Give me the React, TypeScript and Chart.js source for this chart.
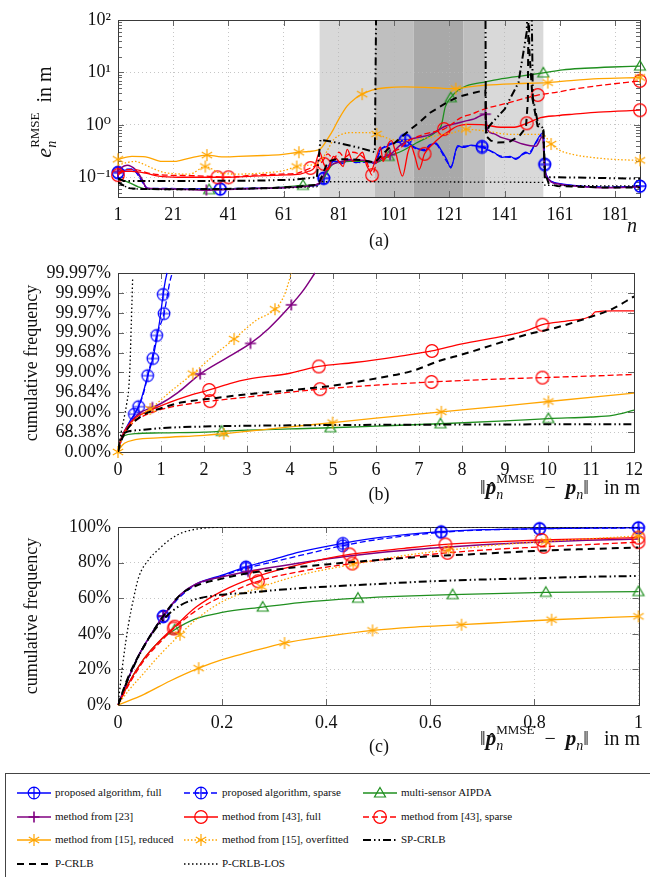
import React, { useEffect, useRef } from 'react';
import { Chart, registerables } from 'chart.js';
Chart.register(...registerables);

type P = [number, number][];
const SERIF = '"Liberation Serif", "DejaVu Serif", serif';

// ---------------- Panel (a): RMSE over time step n ----------------
const xTicksA = [1, 21, 41, 61, 81, 101, 121, 141, 161, 181];
const yTicksA = [0.1, 1, 10, 100];
const yTickLabelsA = ['10⁻¹', '10⁰', '10¹', '10²'];
// shaded time intervals [from, to, level]
const shadeA: [number, number, number][] = [[74, 94, 1], [94, 108, 2], [108, 126, 3], [126, 134, 2], [134, 155, 1]];

const blueFullA: P = [[1,0.12],[3,0.135],[6,0.14],[8.5,0.11],[10.9,0.068],[12,0.06],[20,0.06],[30,0.06],[38,0.059],[50,0.061],[60,0.064],[70,0.068],[73,0.07],[75.5,0.094],[78,0.19],[80,0.2],[82,0.18],[85,0.22],[87,0.19],[89,0.2],[92,0.19],[94,0.19],[96,0.34],[98,0.38],[100,0.43],[103,0.49],[105,0.5],[107,0.42],[109,0.36],[112,0.32],[114,0.4],[116,0.45],[118,0.33],[120,0.22],[121.5,0.15],[124,0.4],[126,0.37],[129,0.41],[132.8,0.37],[135,0.33],[137,0.3],[140,0.24],[143,0.25],[145,0.22],[148.6,0.3],[150,0.28],[152.2,0.46],[155,0.71],[155.5,0.18],[156.5,0.1],[158.4,0.082],[160,0.077],[166,0.07],[178,0.064],[190,0.068]];
const blueSparseA: P = [[1,0.125],[3,0.14],[6,0.145],[8.5,0.105],[10.9,0.066],[12,0.061],[20,0.061],[30,0.059],[38,0.06],[50,0.062],[60,0.063],[70,0.069],[73,0.071],[75.5,0.097],[78,0.18],[80,0.21],[82,0.19],[85,0.21],[87,0.2],[89,0.19],[92,0.2],[94,0.18],[96,0.32],[98,0.4],[100,0.45],[103,0.47],[105,0.52],[107,0.4],[109,0.35],[112,0.34],[114,0.42],[116,0.43],[118,0.31],[120,0.2],[121.5,0.16],[124,0.38],[126,0.39],[129,0.4],[132.8,0.39],[135,0.34],[137,0.29],[140,0.25],[143,0.24],[145,0.23],[148.6,0.29],[150,0.3],[152.2,0.44],[155,0.68],[155.5,0.17],[156.5,0.1],[158.4,0.08],[160,0.076],[166,0.069],[178,0.065],[190,0.067]];
const blueMarksA = [1, 38, 75.5, 105, 132.8, 155.5, 190];
const aipdaA: P = [[1,0.095],[4.8,0.08],[8.5,0.065],[11,0.06],[20,0.059],[34,0.058],[45,0.06],[60,0.064],[68,0.07],[73,0.072],[75,0.09],[79,0.18],[85,0.2],[90,0.2],[94.3,0.19],[99,0.25],[104,0.32],[109,0.45],[112.4,0.55],[116,0.72],[118,0.95],[119.5,2.2],[121.5,3.3],[124,4.5],[127,5.5],[134.2,6.6],[140,7.6],[148,8.7],[155,9.8],[162,11.2],[170,12],[180,12.7],[190,13.2]];
const aipdaMarksA = [34, 68, 99, 121.5, 155, 190];
const m23A: P = [[1,0.13],[2,0.15],[4.3,0.17],[7.3,0.14],[9.7,0.092],[11.4,0.062],[20,0.06],[33,0.057],[45,0.06],[60,0.063],[70,0.068],[74,0.078],[77,0.15],[79,0.18],[82,0.2],[85,0.21],[90,0.21],[94.3,0.19],[97,0.24],[99.5,0.27],[103,0.4],[107,0.53],[110,0.58],[114,0.65],[117,0.8],[119.7,0.95],[123,1.05],[127,1.19],[130,1.3],[134,1.6],[134.8,0.8],[137,0.68],[140,0.57],[144,0.5],[147.5,0.43],[152.3,0.39],[154.7,0.6],[155.5,0.15],[157,0.09],[160,0.075],[166,0.068],[178,0.063],[190,0.065]];
const m23MarksA = [1, 33, 99.5, 134];
const m43FullA: P = [[1,0.11],[3,0.13],[6,0.13],[11,0.12],[15.7,0.105],[22.6,0.1],[30,0.1],[37,0.1],[41,0.1],[50,0.105],[60,0.11],[67,0.115],[70,0.13],[72,0.15],[74,0.3],[75.5,0.18],[77,0.14],[79,0.25],[81,0.2],[82.5,0.16],[84,0.34],[86,0.2],[88,0.25],[89.5,0.3],[91,0.17],[92.5,0.13],[94.6,0.25],[96,0.38],[97,0.2],[99,0.45],[100,0.5],[101.5,0.3],[104,0.105],[106,0.3],[107,0.4],[108.5,0.25],[110,0.14],[112,0.28],[115,0.43],[118,0.6],[121,0.77],[124,0.95],[127.6,1.02],[133.6,1.0],[139.6,0.9],[144.5,0.9],[149,1.07],[154,1.37],[160,1.5],[166,1.6],[175,1.75],[190,1.9]];
const m43FullMarksA = [1, 37, 75.5, 112, 149, 190];
const m43SparseA: P = [[1,0.12],[4,0.14],[7,0.14],[12,0.12],[18,0.11],[25,0.108],[33,0.105],[41,0.1],[50,0.11],[60,0.115],[66,0.12],[70.7,0.15],[73,0.17],[75,0.2],[77,0.28],[79,0.22],[81,0.3],[83,0.24],[86,0.3],[89,0.26],[91,0.2],[93,0.11],[95.5,0.25],[98,0.22],[100,0.3],[103,0.35],[106,0.5],[109,0.58],[112,0.67],[119,0.83],[122,1.05],[125,1.36],[129,1.6],[133.6,2.0],[142,2.6],[153,3.7],[160,4.2],[166,4.8],[175,5.6],[190,6.9]];
const m43SparseMarksA = [41, 70.7, 93, 119, 153, 190];
const m15RedA: P = [[1,0.22],[6,0.25],[11,0.245],[17,0.2],[21.5,0.2],[26.6,0.23],[33.2,0.265],[38.5,0.245],[44.6,0.25],[53.6,0.26],[60,0.27],[66.5,0.3],[70,0.31],[74.3,0.35],[77,0.55],[79,0.82],[81,1.3],[84,2.3],[87,3.2],[89.4,3.85],[93,4.6],[98,5.1],[105,5.3],[112,5.2],[118,5.0],[123.3,4.9],[128,5.3],[134.2,5.7],[145,6.1],[156.6,6.4],[165,7.0],[175,7.6],[190,8.0]];
const m15RedMarksA = [1, 33.2, 66.5, 89.4, 123.3, 156.6, 190];
const m15OverA: P = [[1,0.17],[4,0.19],[7.3,0.2],[10,0.18],[13.3,0.15],[18,0.122],[27,0.115],[32.6,0.16],[38,0.12],[45,0.115],[53,0.12],[61,0.134],[65.7,0.16],[70,0.17],[73,0.18],[75.5,0.25],[79.2,0.53],[82,0.66],[85.2,0.71],[91,0.71],[94.6,0.67],[99.7,0.53],[105,0.5],[112,0.55],[118,0.65],[122,0.7],[127,0.82],[134.2,0.76],[142.7,0.66],[150,0.66],[154.7,0.66],[157.8,0.43],[160.7,0.33],[166,0.27],[172.3,0.24],[180,0.22],[190,0.21]];
const m15OverMarksA = [32.6, 65.7, 94.6, 127, 157.8, 190];
// bounds reaching "infinity" are given as 1000 (off the top of the axis)
const spcrlbA: P = [[1,0.095],[3,0.085],[10,0.085],[30,0.085],[50,0.086],[65,0.09],[73,0.1],[74.3,0.52],[80,0.46],[88.8,0.36],[94,0.3],[94.6,1000],[134,1000],[134.2,0.65],[135.4,0.95],[141,2],[146,6.4],[149,60],[149.6,1000],[150.6,1000],[151.2,3.3],[153,1.1],[155,0.85],[155.5,0.1],[160,0.1],[175,0.097],[190,0.094]];
const pcrlbA: P = [[1,0.08],[3,0.07],[5,0.062],[8,0.06],[20,0.059],[40,0.06],[55,0.062],[66,0.066],[73,0.072],[74.3,0.09],[77,0.2],[80,0.22],[85,0.22],[90,0.21],[94,0.19],[97,0.28],[100,0.4],[106,0.75],[110,1.1],[114,1.7],[119.7,2.6],[124,3.4],[129,4.0],[134,4.6],[134.3,0.61],[136,0.5],[138.4,0.46],[142.6,0.47],[146.3,0.61],[148.7,0.88],[149.4,3],[149.7,1000],[149.9,28],[151.1,3.1],[152.9,0.95],[155,0.8],[155.6,0.12],[157,0.075],[160,0.068],[175,0.064],[190,0.064]];
const losA: P = [[1,0.08],[3,0.068],[6,0.06],[20,0.058],[40,0.059],[60,0.062],[73,0.066],[74.3,0.082],[100,0.082],[130,0.081],[155,0.08],[155.6,0.07],[170,0.069],[190,0.068]];

// ---------------- Panel (b): CDF, probit-like axis; values are -log10(1-F) ----------------
const xTicksB = [0,1,2,3,4,5,6,7,8,9,10,11,12];
const yTicksB = [0,0.5,1,1.5,2,2.5,3,3.5,4,4.5];
const yTickLabelsB = ['0.00%','68.38%','90.00%','96.84%','99.00%','99.68%','99.90%','99.97%','99.99%','99.997%'];
const blueFullB: P = [[0,0],[0.05,0.22],[0.1,0.38],[0.2,0.62],[0.3,0.82],[0.38,0.95],[0.5,1.2],[0.6,1.55],[0.7,1.95],[0.81,2.35],[0.9,2.85],[0.97,3.3],[1.05,3.96],[1.1,4.3],[1.14,4.5]];
const blueFullMarksB = [0.38, 0.81, 1.05];
const blueSparseB: P = [[0,0],[0.05,0.2],[0.1,0.35],[0.2,0.58],[0.3,0.78],[0.48,1.14],[0.6,1.5],[0.69,1.92],[0.8,2.4],[0.9,2.93],[1.07,3.48],[1.15,3.95],[1.2,4.25],[1.26,4.5]];
const blueSparseMarksB = [0.48, 0.69, 0.9, 1.07];
const aipdaB: P = [[0,0],[0.03,0.2],[0.08,0.33],[0.15,0.41],[0.4,0.46],[1,0.48],[2,0.5],[2.41,0.52],[3,0.55],[4,0.58],[4.94,0.61],[6,0.65],[7.5,0.71],[9,0.78],[10.01,0.84],[11,0.88],[11.5,0.92],[12,1.05]];
const aipdaMarksB = [2.41, 4.94, 7.5, 10.01];
const m23B: P = [[0,0],[0.05,0.25],[0.1,0.42],[0.2,0.62],[0.3,0.76],[0.5,0.98],[0.8,1.12],[1.0,1.22],[1.4,1.5],[1.91,1.96],[2.5,2.35],[3.08,2.73],[3.5,3.1],[4.03,3.7],[4.3,4.05],[4.58,4.5]];
const m23MarksB = [0.8, 1.91, 3.08, 4.03];
const m43FullB: P = [[0,0],[0.05,0.25],[0.1,0.4],[0.2,0.6],[0.4,0.85],[0.75,1.05],[1.2,1.25],[1.6,1.4],[2.12,1.56],[2.6,1.72],[3.03,1.83],[4,1.98],[4.67,2.15],[5.5,2.25],[6.5,2.4],[7.3,2.54],[8,2.72],[9,2.92],[9.5,3.05],[9.87,3.2],[10.5,3.3],[11,3.42],[11.1,3.52],[11.5,3.55],[12,3.55]];
const m43FullMarksB = [2.12, 4.67, 7.3, 9.87];
const m43SparseB: P = [[0,0],[0.05,0.22],[0.1,0.36],[0.2,0.55],[0.4,0.78],[0.75,0.98],[1.2,1.12],[1.6,1.2],[2.14,1.28],[3,1.38],[3.8,1.48],[4.7,1.58],[6,1.68],[7.29,1.76],[8.5,1.82],[9.87,1.87],[11,1.91],[12,1.95]];
const m43SparseMarksB = [2.14, 4.7, 7.29, 9.87];
const m15RedB: P = [[0,0],[0.05,0.1],[0.15,0.22],[0.4,0.31],[1,0.36],[2,0.42],[2.46,0.46],[3,0.52],[4,0.63],[4.99,0.74],[6,0.85],[7.52,1.01],[9,1.16],[10.01,1.27],[12,1.48]];
const m15RedMarksB = [0, 2.46, 4.99, 7.52, 10.01];
const m15OverB: P = [[0,0],[0.1,0.35],[0.3,0.7],[0.5,0.9],[0.75,1.08],[1.2,1.5],[1.74,1.97],[2.2,2.4],[2.7,2.84],[3.2,3.3],[3.65,3.59],[3.85,3.9],[3.95,4.2],[4.03,4.5]];
const m15OverMarksB = [0.75, 1.74, 2.7, 3.65];
const spcrlbB: P = [[0,0],[0.03,0.2],[0.08,0.38],[0.15,0.48],[0.5,0.55],[1,0.6],[2,0.64],[4,0.67],[8,0.69],[12,0.7]];
const pcrlbB: P = [[0,0],[0.05,0.2],[0.1,0.35],[0.2,0.55],[0.54,0.9],[1,1.1],[1.5,1.25],[2.07,1.33],[3,1.45],[4,1.55],[4.94,1.66],[6,1.85],[6.85,2.04],[7.5,2.3],[8,2.45],[8.77,2.71],[9.5,2.95],[10.2,3.13],[11,3.4],[11.5,3.6],[12,3.91]];
const losB: P = [[0,0],[0.05,0.35],[0.1,0.65],[0.15,0.9],[0.2,1.2],[0.25,1.6],[0.28,2.2],[0.3,2.9],[0.32,3.6],[0.34,4.35]];

// ---------------- Panel (c): CDF, linear axis in % ----------------
const xTicksC = [0, 0.2, 0.4, 0.6, 0.8, 1];
const xTickLabelsC = ['0', '0.2', '0.4', '0.6', '0.8', '1'];
const yTicksC = [0, 20, 40, 60, 80, 100];
const yTickLabelsC = ['0%', '20%', '40%', '60%', '80%', '100%'];
const blueFullC: P = [[0,0],[0.02,15],[0.04,28],[0.06,38],[0.087,50],[0.12,62],[0.15,68],[0.2,73],[0.246,77.6],[0.3,82],[0.35,86],[0.432,90.8],[0.5,94],[0.621,97.4],[0.7,98.5],[0.81,99.1],[0.9,99.4],[1,99.6]];
const blueSparseC: P = [[0,0],[0.02,15],[0.04,28],[0.06,38],[0.087,49.5],[0.12,61],[0.15,67.5],[0.2,72.5],[0.246,76.8],[0.3,80.5],[0.35,84],[0.432,89.5],[0.5,93],[0.621,97],[0.7,98.3],[0.81,99],[0.9,99.3],[1,99.5]];
const blueMarksC = [0.087, 0.246, 0.432, 0.621, 0.81, 1];
const aipdaC: P = [[0,0],[0.02,12],[0.05,26],[0.08,36],[0.109,42.3],[0.15,48.5],[0.2,52],[0.278,55],[0.35,57.5],[0.461,60],[0.55,61.2],[0.643,62],[0.822,63.3],[1,63.7]];
const aipdaMarksC = [0.109, 0.278, 0.461, 0.643, 0.822, 1];
const m23C: P = [[0,0],[0.02,15],[0.04,28],[0.06,38],[0.087,50],[0.12,62],[0.15,68],[0.2,72],[0.25,75],[0.3,77.5],[0.4,82],[0.5,85.5],[0.6,88],[0.7,90],[0.8,91.5],[0.9,92.5],[1,93.3]];
const m23MarksC = [0.087, 0.25];
const m43FullC: P = [[0,0],[0.02,12],[0.05,26],[0.08,36],[0.109,44],[0.15,55],[0.2,64],[0.265,72],[0.35,79],[0.445,84.6],[0.55,88],[0.629,90.2],[0.72,91.6],[0.814,92.7],[1,94]];
const m43FullMarksC = [0.109, 0.265, 0.445, 0.629, 0.814, 1];
const m43SparseC: P = [[0,0],[0.02,11],[0.05,25],[0.08,35],[0.107,43],[0.15,53],[0.2,61],[0.269,69.5],[0.35,75],[0.45,79.5],[0.55,83],[0.633,85.5],[0.72,87.4],[0.818,88.9],[1,91.5]];
const m43SparseMarksC = [0.107, 0.269, 0.45, 0.633, 0.818, 1];
const m15RedC: P = [[0,0],[0.05,6],[0.1,13.5],[0.155,20.7],[0.2,25.5],[0.25,29.5],[0.32,34.8],[0.4,38.5],[0.489,41.9],[0.57,43.8],[0.66,45.1],[0.75,46.6],[0.833,47.9],[1,49.8]];
const m15RedMarksC = [0.155, 0.32, 0.489, 0.66, 0.833, 1];
const m15OverC: P = [[0,0],[0.02,8],[0.05,18],[0.08,28],[0.119,39.5],[0.15,48],[0.2,58],[0.276,66.4],[0.35,73],[0.452,79],[0.55,84],[0.635,87],[0.72,89.7],[0.822,91.9],[1,95]];
const m15OverMarksC = [0.119, 0.276, 0.452, 0.635, 0.822, 1];
const spcrlbC: P = [[0,0],[0.02,15],[0.05,33],[0.087,48],[0.12,56],[0.15,59.5],[0.2,62],[0.25,63],[0.3,64.5],[0.4,66.5],[0.5,68],[0.6,69.5],[0.7,70.5],[0.8,71.2],[0.9,72],[1,72.5]];
const pcrlbC: P = [[0,0],[0.02,16],[0.05,33],[0.087,50],[0.12,62],[0.15,67],[0.2,71],[0.25,74],[0.3,76],[0.4,79],[0.5,81.5],[0.6,83.5],[0.7,85],[0.8,86.5],[0.9,87.6],[1,88.5]];
const losC: P = [[0,0],[0.01,25],[0.02,45],[0.03,60],[0.04,72],[0.06,82],[0.08,88],[0.1,93],[0.125,97],[0.15,98.8],[0.175,99.6],[0.2,99.9],[0.25,100],[1,100]];

// ---------------- legend ----------------
const legendKeys = ['blueFull','blueSparse','aipda','m23','m43full','m43sparse','m15red','m15over','spcrlb','pcrlb','los'];
const legendLabels = ['proposed algorithm, full','proposed algorithm, sparse','multi-sensor AIPDA','method from [23]','method from [43], full','method from [43], sparse','method from [15], reduced','method from [15], overfitted','SP-CRLB','P-CRLB','P-CRLB-LOS'];

const STY: Record<string, any> = {
  blueFull: { color: '#0000ff', marker: 'oplus', dash: [], width: 1.3 },
  blueSparse: { color: '#0000ff', marker: 'oplus', dash: [6, 3], width: 1.3 },
  aipda: { color: '#1f8f1f', marker: 'triangle', dash: [], width: 1.3 },
  m23: { color: '#800080', marker: 'plus', dash: [], width: 1.5 },
  m43full: { color: '#ff0000', marker: 'circle', dash: [], width: 1.3 },
  m43sparse: { color: '#ff0000', marker: 'circle', dash: [6, 3], width: 1.3 },
  m15red: { color: '#ffa500', marker: 'asterisk', dash: [], width: 1.3 },
  m15over: { color: '#ffa500', marker: 'asterisk', dash: [1.5, 2], width: 1.3 },
  spcrlb: { color: '#000000', marker: null, dash: [8, 3, 1.5, 3, 1.5, 3], width: 2 },
  pcrlb: { color: '#000000', marker: null, dash: [7, 5], width: 2 },
  los: { color: '#000000', marker: null, dash: [1.5, 2.5], width: 1.3 },
};

function drawMarker(ctx: any, kind: string, x: number, y: number, color: string) {
  ctx.save();
  ctx.strokeStyle = color; ctx.lineWidth = 1.2; ctx.setLineDash([]);
  ctx.beginPath();
  if (kind === 'oplus') {
    const r = 5.8; ctx.arc(x, y, r, 0, Math.PI * 2);
    ctx.moveTo(x - r, y); ctx.lineTo(x + r, y); ctx.moveTo(x, y - r); ctx.lineTo(x, y + r);
  } else if (kind === 'circle') {
    ctx.arc(x, y, 6.3, 0, Math.PI * 2);
  } else if (kind === 'triangle') {
    ctx.moveTo(x, y - 5.5); ctx.lineTo(x + 5.5, y + 4); ctx.lineTo(x - 5.5, y + 4); ctx.closePath();
  } else if (kind === 'plus') {
    ctx.lineWidth = 1.6;
    ctx.moveTo(x - 5.5, y); ctx.lineTo(x + 5.5, y); ctx.moveTo(x, y - 5.5); ctx.lineTo(x, y + 5.5);
  } else if (kind === 'asterisk') {
    const r = 6;
    for (const a of [90, 30, 150]) {
      const t = (a * Math.PI) / 180;
      ctx.moveTo(x - r * Math.cos(t), y - r * Math.sin(t)); ctx.lineTo(x + r * Math.cos(t), y + r * Math.sin(t));
    }
  }
  ctx.stroke();
  ctx.restore();
}

function markerCanvas(kind: string, color: string) {
  const c = document.createElement('canvas');
  c.width = 18; c.height = 18;
  drawMarker(c.getContext('2d'), kind, 9, 9, color);
  return c;
}

function makeDataset(key: string, pts: P, marks: number[], mono: boolean) {
  const s = STY[key];
  const isBound = !s.marker;
  return {
    label: key,
    data: pts.map(([x, y]) => ({ x, y })),
    borderColor: s.color,
    backgroundColor: s.color,
    borderWidth: s.width,
    borderDash: s.dash,
    pointStyle: s.marker ? markerCanvas(s.marker, s.color) : false,
    pointRadius: (c: any) => (s.marker && c.raw && marks.includes(c.raw.x) ? 6 : 0),
    pointHoverRadius: 0,
    pointHitRadius: 0,
    fill: false,
    tension: 0,
    cubicInterpolationMode: mono ? 'monotone' : 'default',
    clip: isBound ? 0 : 10,
  };
}

type Part = { t: string; f: string; dy?: number; dx?: number; hold?: boolean };
function drawParts(ctx: any, parts: Part[], x: number, y: number, align: string, rotate = false) {
  ctx.save();
  ctx.fillStyle = '#111'; ctx.textBaseline = 'alphabetic'; ctx.textAlign = 'left';
  let total = 0, pend = 0;
  for (const p of parts) {
    ctx.font = p.f; const w = ctx.measureText(p.t).width;
    if (p.hold) pend = Math.max(pend, w); else { total += Math.max(pend, w); pend = 0; }
  }
  ctx.translate(x, y);
  if (rotate) ctx.rotate(-Math.PI / 2);
  let cx = align === 'center' ? -total / 2 : align === 'right' ? -total : 0;
  pend = 0;
  for (const p of parts) {
    ctx.font = p.f; const w = ctx.measureText(p.t).width;
    ctx.fillText(p.t, cx + (p.dx || 0), p.dy || 0);
    if (p.hold) pend = Math.max(pend, w); else { cx += Math.max(pend, w); pend = 0; }
  }
  ctx.restore();
}

const F18 = `18px ${SERIF}`;
const F20 = `20px ${SERIF}`;
const normTitle: Part[] = [
  { t: '‖', f: F20 },
  { t: 'ˆ', f: `bold 19px ${SERIF}`, dy: 1, dx: 3, hold: true },
  { t: 'p', f: `italic bold 21px ${SERIF}` },
  { t: 'MMSE', f: `13px ${SERIF}`, dy: -11, hold: true },
  { t: 'n', f: `italic 14px ${SERIF}`, dy: 5 },
  { t: '  −  ', f: F20 },
  { t: 'p', f: `italic bold 21px ${SERIF}` },
  { t: 'n', f: `italic 14px ${SERIF}`, dy: 5 },
  { t: '‖   in m', f: F20 },
];

function decoPlugin(cfg: any) {
  return {
    id: 'deco',
    beforeDraw(chart: any) {
      const { ctx, chartArea: a, scales } = chart;
      if (cfg.shade) {
        const cols: Record<number, string> = { 1: '#d9d9d9', 2: '#bfbfbf', 3: '#a9a9a9' };
        ctx.save();
        for (const [x0, x1, lvl] of cfg.shade) {
          const p0 = scales.x.getPixelForValue(x0), p1 = scales.x.getPixelForValue(x1);
          ctx.fillStyle = cols[lvl];
          ctx.fillRect(p0, a.top, p1 - p0, a.bottom - a.top);
        }
        ctx.restore();
      }
    },
    beforeDatasetsDraw(chart: any) {
      const { ctx, chartArea: a, scales } = chart;
      ctx.save();
      ctx.strokeStyle = '#666'; ctx.lineWidth = 1; ctx.setLineDash([]);
      ctx.beginPath();
      for (const t of scales.x.ticks) {
        const px = Math.round(scales.x.getPixelForValue(t.value)) + 0.5;
        ctx.moveTo(px, a.bottom); ctx.lineTo(px, a.bottom - 6);
        ctx.moveTo(px, a.top); ctx.lineTo(px, a.top + 6);
      }
      for (const t of scales.y.ticks) {
        const py = Math.round(scales.y.getPixelForValue(t.value)) + 0.5;
        ctx.moveTo(a.left, py); ctx.lineTo(a.left + 6, py);
        ctx.moveTo(a.right, py); ctx.lineTo(a.right - 6, py);
      }
      if (cfg.minorLog) {
        for (let e = -2; e <= 1; e++) {
          for (let m = 2; m <= 9; m++) {
            const v = m * Math.pow(10, e);
            if (v <= scales.y.min || v >= scales.y.max) continue;
            const py = Math.round(scales.y.getPixelForValue(v)) + 0.5;
            ctx.moveTo(a.left, py); ctx.lineTo(a.left + 4, py);
            ctx.moveTo(a.right, py); ctx.lineTo(a.right - 4, py);
          }
        }
      }
      ctx.stroke();
      ctx.strokeStyle = '#3a3a3a';
      ctx.strokeRect(Math.round(a.left) + 0.5, Math.round(a.top) + 0.5, Math.round(a.right - a.left), Math.round(a.bottom - a.top));
      ctx.restore();
    },
    afterDraw(chart: any) {
      cfg.texts(chart.ctx);
    },
  };
}

function makeChart(canvas: HTMLCanvasElement, o: any) {
  const datasets = o.series.map(([key, pts, marks]: any) => makeDataset(key, pts, marks, o.mono(key)));
  datasets.reverse(); // later legend entries drawn on top
  const tickFont = { family: SERIF, size: 18 };
  return new Chart(canvas, {
    type: 'line',
    data: { datasets },
    options: {
      animation: false, responsive: false, maintainAspectRatio: false, devicePixelRatio: 1,
      events: [],
      layout: { padding: { left: 0, right: 10, top: o.top, bottom: 0 } },
      plugins: { legend: { display: false }, tooltip: { enabled: false } },
      scales: {
        x: {
          type: 'linear', min: o.xMin, max: o.xMax,
          afterBuildTicks: (s: any) => { s.ticks = o.xTicks.map((v: number) => ({ value: v })); },
          afterFit: (s: any) => { s.height = o.xHeight; },
          ticks: { autoSkip: false, maxRotation: 0, padding: 7, font: tickFont, color: '#111',
            callback: (_v: any, i: number) => o.xLabels[i] },
          grid: { color: '#b8b8b8', lineWidth: 0.8, drawTicks: false },
          border: { display: false, dash: [1, 3] },
        },
        y: {
          type: o.yType, min: o.yMin, max: o.yMax,
          afterBuildTicks: (s: any) => { s.ticks = o.yTicks.map((v: number) => ({ value: v, major: true })); },
          afterFit: (s: any) => { s.width = 118; },
          ticks: { autoSkip: false, padding: 7, font: tickFont, color: '#111',
            callback: (_v: any, i: number) => o.yLabels[i] },
          grid: { color: '#b8b8b8', lineWidth: 0.8, drawTicks: false },
          border: { display: false, dash: [1, 3] },
        },
      },
    } as any,
    plugins: [decoPlugin(o.deco)],
  } as any);
}

function LegendSample({ k }: { k: string }) {
  const ref = useRef<HTMLCanvasElement>(null);
  useEffect(() => {
    const c = ref.current; if (!c) return;
    const ctx = c.getContext('2d') as any;
    const s = STY[k];
    ctx.clearRect(0, 0, c.width, c.height);
    ctx.strokeStyle = s.color; ctx.lineWidth = s.width; ctx.setLineDash(s.dash);
    ctx.beginPath(); ctx.moveTo(1, 8); ctx.lineTo(35, 8); ctx.stroke();
    if (s.marker) drawMarker(ctx, s.marker, 18, 8, s.color);
  }, [k]);
  return <canvas ref={ref} width={36} height={16} style={{ position: 'absolute', left: 0, top: -8 }} />;
}

export default function App() {
  const ra = useRef<HTMLCanvasElement>(null);
  const rb = useRef<HTMLCanvasElement>(null);
  const rc = useRef<HTMLCanvasElement>(null);

  useEffect(() => {
    const charts: any[] = [];
    const xLabelsA = xTicksA.map(String);
    charts.push(makeChart(ra.current!, {
      top: 20, xHeight: 53, xMin: 1, xMax: 190, xTicks: xTicksA, xLabels: xLabelsA,
      yType: 'logarithmic', yMin: 0.042, yMax: 100, yTicks: yTicksA, yLabels: yTickLabelsA,
      mono: (k: string) => !['spcrlb', 'pcrlb', 'los'].includes(k),
      series: [
        ['blueFull', blueFullA, blueMarksA], ['blueSparse', blueSparseA, blueMarksA], ['aipda', aipdaA, aipdaMarksA],
        ['m23', m23A, m23MarksA], ['m43full', m43FullA, m43FullMarksA], ['m43sparse', m43SparseA, m43SparseMarksA],
        ['m15red', m15RedA, m15RedMarksA], ['m15over', m15OverA, m15OverMarksA],
        ['spcrlb', spcrlbA, []], ['pcrlb', pcrlbA, []], ['los', losA, []],
      ],
      deco: {
        shade: shadeA, minorLog: true,
        texts: (ctx: any) => {
          drawParts(ctx, [
            { t: 'e', f: `italic 22px ${SERIF}` },
            { t: 'RMSE', f: `13px ${SERIF}`, dy: -12, hold: true },
            { t: 'n', f: `italic 14px ${SERIF}`, dy: 5 },
            { t: '  in m', f: F20 },
          ], 51, 112, 'center', true);
          drawParts(ctx, [{ t: '(a)', f: F18 }], 379, 246, 'center');
          drawParts(ctx, [{ t: 'n', f: `italic 20px ${SERIF}` }], 632, 232, 'center');
        },
      },
    }));
    charts.push(makeChart(rb.current!, {
      top: 23, xHeight: 53, xMin: 0, xMax: 12, xTicks: xTicksB, xLabels: xTicksB.map(String),
      yType: 'linear', yMin: 0, yMax: 4.5, yTicks: yTicksB, yLabels: yTickLabelsB,
      mono: () => true,
      series: [
        ['blueFull', blueFullB, blueFullMarksB], ['blueSparse', blueSparseB, blueSparseMarksB], ['aipda', aipdaB, aipdaMarksB],
        ['m23', m23B, m23MarksB], ['m43full', m43FullB, m43FullMarksB], ['m43sparse', m43SparseB, m43SparseMarksB],
        ['m15red', m15RedB, m15RedMarksB], ['m15over', m15OverB, m15OverMarksB],
        ['spcrlb', spcrlbB, []], ['pcrlb', pcrlbB, []], ['los', losB, []],
      ],
      deco: {
        texts: (ctx: any) => {
          drawParts(ctx, [{ t: 'cumulative frequency', f: F18 }], 37, 113, 'center', true);
          drawParts(ctx, [{ t: '(b)', f: F18 }], 379, 250, 'center');
          drawParts(ctx, normTitle, 640, 244, 'right');
        },
      },
    }));
    charts.push(makeChart(rc.current!, {
      top: 22, xHeight: 55, xMin: 0, xMax: 1, xTicks: xTicksC, xLabels: xTickLabelsC,
      yType: 'linear', yMin: 0, yMax: 100, yTicks: yTicksC, yLabels: yTickLabelsC,
      mono: () => true,
      series: [
        ['blueFull', blueFullC, blueMarksC], ['blueSparse', blueSparseC, blueMarksC], ['aipda', aipdaC, aipdaMarksC],
        ['m23', m23C, m23MarksC], ['m43full', m43FullC, m43FullMarksC], ['m43sparse', m43SparseC, m43SparseMarksC],
        ['m15red', m15RedC, m15RedMarksC], ['m15over', m15OverC, m15OverMarksC],
        ['spcrlb', spcrlbC, []], ['pcrlb', pcrlbC, []], ['los', losC, []],
      ],
      deco: {
        texts: (ctx: any) => {
          drawParts(ctx, [{ t: 'cumulative frequency', f: F18 }], 37, 111, 'center', true);
          drawParts(ctx, [{ t: '(c)', f: F18 }], 379, 247, 'center');
          drawParts(ctx, normTitle, 640, 240, 'right');
        },
      },
    }));
    return () => { charts.forEach((c) => c.destroy()); };
  }, []);

  const colX = [16, 183, 362];
  return (
    <div style={{ position: 'absolute', left: 0, top: 0, width: 650, height: 877, overflow: 'hidden', background: '#fff' }}>
      <canvas ref={ra} width={650} height={250} style={{ position: 'absolute', left: 0, top: 0, width: 650, height: 250 }} />
      <canvas ref={rb} width={650} height={255} style={{ position: 'absolute', left: 0, top: 250, width: 650, height: 255 }} />
      <canvas ref={rc} width={650} height={255} style={{ position: 'absolute', left: 0, top: 505, width: 650, height: 255 }} />
      <div style={{ position: 'absolute', left: 5, top: 773, width: 700, height: 140, border: '1px solid #444', boxSizing: 'border-box' }} />
      {legendKeys.map((k, i) => {
        const col = i % 3, row = Math.floor(i / 3);
        return (
          <div key={k} style={{ position: 'absolute', left: colX[col], top: 793 + row * 23.7, height: 0 }}>
            <LegendSample k={k} />
            <span style={{ position: 'absolute', left: 39, top: -8, whiteSpace: 'nowrap', font: `11px ${SERIF}`, lineHeight: '14px', color: '#111' }}>
              {legendLabels[i]}
            </span>
          </div>
        );
      })}
    </div>
  );
}
